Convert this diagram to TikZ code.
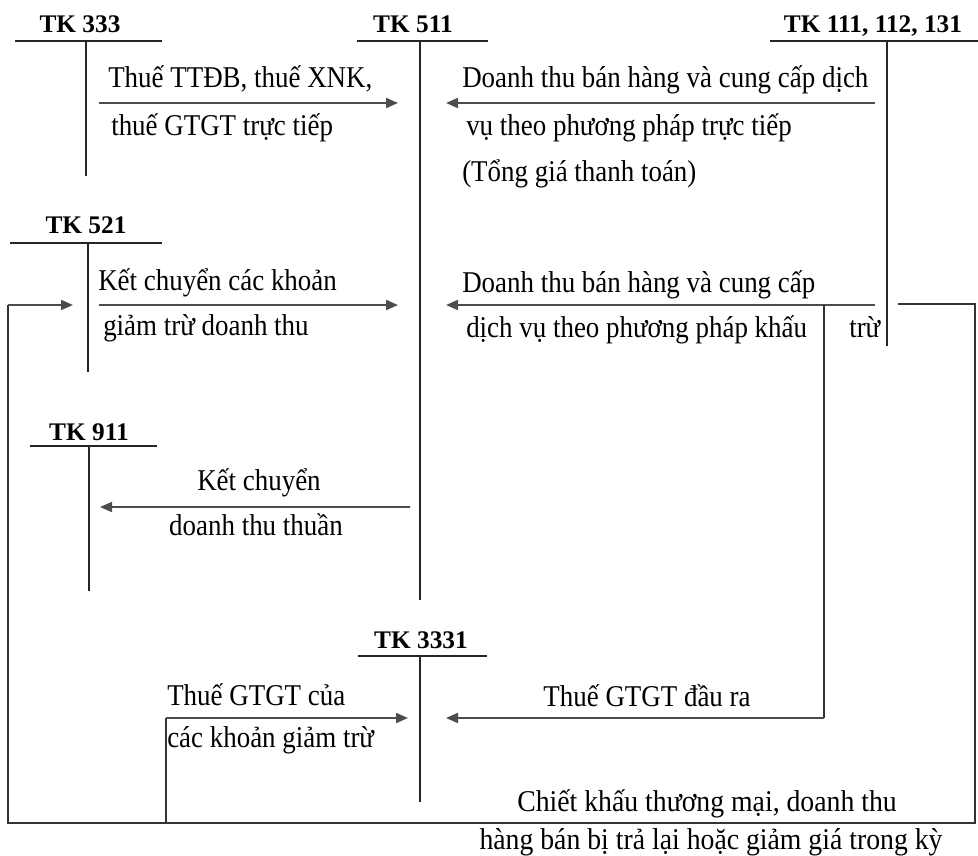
\documentclass[tikz,border=0pt]{standalone}
\usepackage{fontspec}
\usepackage{graphicx}
\setmainfont{Liberation Serif}
\usetikzlibrary{arrows.meta}
% body text is set slightly taller than wide
\newcommand{\tallt}[1]{\scalebox{1}[1.12]{#1}}
\newcommand{\widet}[1]{\scalebox{1.03}[1.12]{#1}}
\begin{document}
\begin{tikzpicture}[x=0.75pt,y=-0.75pt,
  acct/.style={font=\fontsize{19}{21}\selectfont\bfseries, inner sep=0pt, anchor=base},
  txt/.style={font=\fontsize{20.2}{23}\selectfont, inner sep=0pt, anchor=base west},
  ctxt/.style={font=\fontsize{20.2}{23}\selectfont, inner sep=0pt, anchor=base},
  tline/.style={line width=1.1pt, black!85},
  flow/.style={line width=1.4pt, black!70, -{Triangle[length=9pt,width=7.5pt]}},
  wire/.style={line width=1.1pt, black!80}]
\useasboundingbox (0,0) rectangle (978,856);

% ---- T-accounts: title, top bar, vertical stem ----
\node[acct] (h333) at (80,33) {TK 333};
\draw[tline] (15,41) -- (162,41) (86,41) -- (86,176);
\node[acct] (h511) at (413,33) {TK 511};
\draw[tline] (357,41) -- (488,41) (420,41) -- (420,600);
\node[acct] (h111) at (873,33) {TK 111, 112, 131};
\draw[tline] (770,41) -- (978,41) (887,41) -- (887,346);
\node[acct] (h521) at (86,233) {TK 521};
\draw[tline] (10,243) -- (162,243) (88,243) -- (88,372);
\node[acct] (h911) at (89,440) {TK 911};
\draw[tline] (30,446) -- (157,446) (89,446) -- (89,591);
\node[acct] (h3331) at (421,648) {TK 3331};
\draw[tline] (358,656) -- (487,656) (420,656) -- (420,802);

% ---- connector end points ----
\coordinate (a1s) at (99,103);  \coordinate (a1e) at (398,103);
\coordinate (a2s) at (875,103); \coordinate (a2e) at (446,103);
\coordinate (a3s) at (99,305);  \coordinate (a3e) at (398,305);
\coordinate (a4s) at (875,305); \coordinate (a4e) at (446,305);
\coordinate (a5s) at (410,507); \coordinate (a5e) at (100,507);
\coordinate (vat) at (824,305); \coordinate (vatb) at (824,718);
\coordinate (a6e) at (446,718);
\coordinate (r0) at (898,304); \coordinate (r1) at (975,304);
\coordinate (r2) at (975,823);  \coordinate (r3) at (8,823);
\coordinate (r4) at (8,305);    \coordinate (r5) at (73,305);
\coordinate (g0) at (166,823);  \coordinate (g1) at (166,718);
\coordinate (g2) at (408,718);

% ---- entries ----
\draw[flow] (a1s) -- (a1e);
\node[txt] (t1a) at (108,88) {\tallt{Thuế TTĐB, thuế XNK,}};
\node[txt] (t1b) at (111,135) {\tallt{thuế GTGT trực tiếp}};

\draw[flow] (a2s) -- (a2e);
\node[txt] (t2a) at (462,88) {\tallt{Doanh thu bán hàng và cung cấp dịch}};
\node[txt] (t2b) at (466,135) {\tallt{vụ theo phương pháp trực tiếp}};
\node[txt] (t2c) at (462,181) {\tallt{(Tổng giá thanh toán)}};

\draw[flow] (a3s) -- (a3e);
\node[txt] (t3a) at (98,290) {\tallt{Kết chuyển các khoản}};
\node[txt] (t3b) at (103,335) {\tallt{giảm trừ doanh thu}};

\draw[flow] (a4s) -- (a4e);
\node[txt] (t4a) at (462,292) {\tallt{Doanh thu bán hàng và cung cấp}};
\node[txt] (t4b) at (466,337) {\tallt{dịch vụ theo phương pháp khấu}};
\node[txt] (t4c) at (849,337) {\tallt{trừ}};

\draw[flow] (a5s) -- (a5e);
\node[ctxt] (t5a) at (259,490) {\tallt{Kết chuyển}};
\node[ctxt] (t5b) at (256,535) {\tallt{doanh thu thuần}};

% output VAT branch
\draw[wire] (vat) -- (vatb);
\draw[flow] (vatb) -- (a6e);
\node[ctxt] (t6) at (647,706) {\tallt{Thuế GTGT đầu ra}};

% discounts / returns loop
\draw[wire] (r0) -- (r1) -- (r2) -- (r3) -- (r4);
\draw[flow] (r4) -- (r5);
\node[ctxt] (t7a) at (707,811) {\widet{Chiết khấu thương mại, doanh thu}};
\node[ctxt] (t7b) at (711,849) {\widet{hàng bán bị trả lại hoặc giảm giá trong kỳ}};

% VAT on reductions
\draw[wire] (g0) -- (g1);
\draw[flow] (g1) -- (g2);
\node[txt] (t8a) at (167,705) {\tallt{Thuế GTGT của}};
\node[txt] (t8b) at (167,747) {\tallt{các khoản giảm trừ}};
\end{tikzpicture}
\end{document}
